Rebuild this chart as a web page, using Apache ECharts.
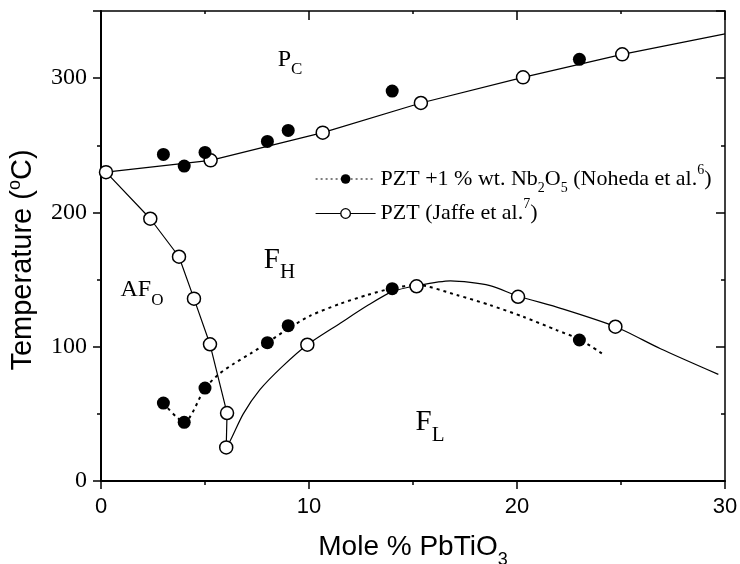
<!DOCTYPE html>
<html><head><meta charset="utf-8">
<script src="https://cdn.jsdelivr.net/npm/echarts@6/dist/echarts.min.js"></script>
<style>html,body{margin:0;padding:0;background:#fff}#c{width:740px;height:564px}</style>
</head><body><div id="c"></div>
<script>
// ---- data ----
const xTickLabels = ['0', '10', '20', '30'];
const yTickLabels = ['0', '100', '200', '300'];

// PZT + 1 % wt. Nb2O5 (Noheda et al.) : filled circles
const nohedaUpper = [[3, 243.2], [4, 234.5], [5, 244.7], [8, 252.9], [9, 261.1], [14, 290.4], [23, 314]];
const nohedaLower = [[3, 58], [4, 43.7], [5, 69.2], [8, 103], [9, 115.7], [14, 143.2], [23, 105]];
// dotted guide curve through the lower filled circles
const nohedaCurve = [[3, 58], [4, 43.7], [5, 69], [5.7, 80], [6.4, 87.5], [7.2, 95], [8, 103], [9, 113.5],
  [10.05, 123], [11.5, 132], [12.8, 138.5], [14, 143.5], [15.2, 146], [17.1, 138.5], [18.7, 131],
  [20.3, 122.3], [21.9, 112.4], [23, 105.5], [24.12, 94.6]];

// PZT (Jaffe et al.) : open circles
const jaffeUpper = [[0.24, 230], [5.27, 238.8], [10.66, 259.4], [15.38, 281.5], [20.29, 300.6], [25.06, 317.7]];
const jaffeUpperEnd = [[30, 333]];
const jaffeAF = [[2.37, 195.3], [3.75, 167], [4.47, 135.8], [5.24, 101.8], [6.06, 50.6], [6.02, 25]];
const jaffeLower = [[9.92, 101.5], [15.17, 145], [20.05, 137.2], [24.73, 114.9]];
// solid guide curve through the lower open circles
const jaffeLowerCurve = [[6.02, 25], [6.23, 30.5], [6.84, 50], [7.64, 68], [8.7, 85], [9.92, 101.5], [11.5, 117.5],
  [12.85, 131], [14.0, 141], [15.17, 145.4], [16.8, 149], [18.7, 145.5], [20.03, 137.8], [22.1, 128.6],
  [24.74, 114.9], [26.9, 98.5], [29.68, 79.4]];

// phase region labels
const regionNames = ['PC', 'FH', 'AFO', 'FL'];
const regionMain = ['P', 'F', 'AF', 'F'];
const regionSub = ['C', 'H', 'O', 'L'];
const regionAt = [[9.09, 314], [8.58, 164.6], [1.97, 142.2], [15.82, 43.6]];

const N1 = 'noheda';
const N2 = 'jaffe';

const SERIF = 'Liberation Serif, Times New Roman, serif';
const SANS = 'Liberation Sans, Arial, sans-serif';

// ---- chart ----
const chart = echarts.init(document.getElementById('c'), null, {renderer: 'canvas'});

const axisCommon = {
  type: 'value', splitLine: {show: false},
  axisLine: {show: true, onZero: false, lineStyle: {color: '#000', width: 2}},
  minorTick: {show: true, splitNumber: 2, length: 4, lineStyle: {color: '#000', width: 1.5}},
  minorSplitLine: {show: false}
};

const tb = {textBorderWidth: 0, textBorderColor: 'transparent', textShadowBlur: 0, opacity: 1};
const regionRich = {
  big: Object.assign({fontFamily: SERIF, fontSize: 29, color: '#000'}, tb),
  bigs: Object.assign({fontFamily: SERIF, fontSize: 21, color: '#000', padding: [2 * (10 + 0.34 * 8), 0, 0, 0], verticalAlign: 'middle'}, tb),
  mid: Object.assign({fontFamily: SERIF, fontSize: 24, color: '#000'}, tb),
  mids: Object.assign({fontFamily: SERIF, fontSize: 17, color: '#000', padding: [2 * (8 + 0.34 * 7), 0, 0, 0], verticalAlign: 'middle'}, tb)
};

const option = {
  animation: false,
  backgroundColor: '#fff',
  grid: {left: 101, right: 15, top: 11, bottom: 83, outerBoundsMode: 'none'},
  xAxis: [
    Object.assign({}, axisCommon, {
      min: 0, max: 30, interval: 10, position: 'bottom',
      axisTick: {show: true, length: 8, lineStyle: {color: '#000', width: 1.5}},
      axisLabel: {margin: 15, fontSize: 22, color: '#000', fontFamily: SANS,
        formatter: v => xTickLabels[Math.round(v / 10)]},
      name: '{m|Mole % PbTiO}{s|3}', nameLocation: 'middle', nameGap: 45, nameMoveOverlap: false,
      nameTextStyle: {fontFamily: SANS, fontSize: 28, color: '#000',
        rich: {m: {fontFamily: SANS, fontSize: 28, color: '#000'},
               s: {fontFamily: SANS, fontSize: 18, color: '#000', padding: [25, 0, 0, 0], verticalAlign: 'middle'}}}
    }),
    Object.assign({}, axisCommon, {
      min: 0, max: 30, interval: 10, position: 'top',
      axisLine: {show: true, onZero: false, lineStyle: {color: '#000', width: 1.5}},
      axisTick: {show: true, inside: true, length: 9, lineStyle: {color: '#000', width: 1.5}},
      minorTick: {show: true, splitNumber: 2, length: 3, lineStyle: {color: '#000', width: 1.5}},
      axisLabel: {show: false}
    })
  ],
  yAxis: [
    Object.assign({}, axisCommon, {
      min: 0, max: 350, interval: 100, position: 'left',
      axisTick: {show: true, length: 8, lineStyle: {color: '#000', width: 1.5}},
      axisLabel: {margin: 14, fontSize: 24, color: '#000', fontFamily: SERIF,
        formatter: v => yTickLabels[Math.round(v / 100)] || ''},
      name: '{m|Temperature (}{p|o}{m|C)}', nameLocation: 'middle', nameGap: 62, nameMoveOverlap: false,
      nameTextStyle: {fontFamily: SANS, fontSize: 29, color: '#000', padding: [0, 28, 0, 0],
        rich: {m: {fontFamily: SANS, fontSize: 29, color: '#000'},
               p: {fontFamily: SANS, fontSize: 18, color: '#000', padding: [0, 0, 15, 0], verticalAlign: 'middle'}}}
    }),
    Object.assign({}, axisCommon, {
      min: 0, max: 350, interval: 100, position: 'right',
      axisLine: {show: true, onZero: false, lineStyle: {color: '#000', width: 1.5}},
      axisTick: {show: true, inside: true, length: 9, lineStyle: {color: '#000', width: 1.5}},
      axisLabel: {show: false}
    })
  ],
  legend: {
    orient: 'vertical', left: 310, top: 158, itemWidth: 60, itemHeight: 12, itemGap: 2,
    selectedMode: false,
    data: [
      {name: N1, lineStyle: {type: [2, 3], width: 1.2, color: '#000'}, itemStyle: {color: '#000', borderWidth: 0}},
      {name: N2, lineStyle: {type: 'solid', width: 1.2, color: '#000'}, itemStyle: {color: '#fff', borderColor: '#000', borderWidth: 1.3}}
    ],
    formatter: function (name) {
      if (name === N1) return '{t|PZT +1 % wt. Nb}{sb|2}{t|O}{sb|5}{t| (Noheda et al.}{sp|6}{t|)}';
      return '{t|PZT (Jaffe et al.}{sp|7}{t|)}';
    },
    textStyle: {fontFamily: SERIF, fontSize: 22, color: '#000',
      rich: {
        t: {fontFamily: SERIF, fontSize: 22, color: '#000'},
        sb: {fontFamily: SERIF, fontSize: 14, color: '#000', padding: [19, 0, 0, 0], verticalAlign: 'middle'},
        sp: {fontFamily: SERIF, fontSize: 14, color: '#000', padding: [0, 0, 18, 0], verticalAlign: 'middle'}
      }}
  },
  series: [
    {name: N1, type: 'line', data: nohedaCurve, smooth: 0.25, symbol: 'circle', symbolSize: 12, showSymbol: false,
     lineStyle: {color: '#000', width: 2, type: [3, 4]}, itemStyle: {color: '#000'}, z: 2, silent: true},
    {name: N2, type: 'line', data: jaffeLowerCurve, smooth: 0.25, symbol: 'circle', symbolSize: 12, showSymbol: false,
     lineStyle: {color: '#000', width: 1.2}, itemStyle: {color: '#fff', borderColor: '#000', borderWidth: 1.3}, z: 2, silent: true},
    {name: 'jaffeTcLine', type: 'line', data: jaffeUpper.concat(jaffeUpperEnd), showSymbol: false, symbol: 'none',
     lineStyle: {color: '#000', width: 1.2}, z: 2, silent: true},
    {name: 'jaffeAFLine', type: 'line', data: [jaffeUpper[0]].concat(jaffeAF), showSymbol: false, symbol: 'none',
     lineStyle: {color: '#000', width: 1.2}, z: 2, silent: true},
    {name: 'jaffePts', type: 'scatter', data: jaffeUpper.concat(jaffeAF, jaffeLower), symbol: 'circle', symbolSize: 13,
     itemStyle: {color: '#fff', borderColor: '#000', borderWidth: 1.5, opacity: 1}, z: 3, silent: true},
    {name: 'nohedaPts', type: 'scatter', data: nohedaUpper.concat(nohedaLower), symbol: 'circle', symbolSize: 13,
     itemStyle: {color: '#000', opacity: 1}, z: 4, silent: true},
    {name: 'regions', type: 'scatter', symbolSize: 0.1, itemStyle: {color: '#fff', opacity: 1}, z: 5, silent: true,
     data: regionNames.map((n, i) => ({name: n, value: regionAt[i]})),
     label: Object.assign({show: true, position: 'inside', color: '#000',
       formatter: p => {
         const i = p.dataIndex;
         const big = (i === 1 || i === 3);
         return big ? '{big|' + regionMain[i] + '}{bigs|' + regionSub[i] + '}'
                    : '{mid|' + regionMain[i] + '}{mids|' + regionSub[i] + '}';
       },
       rich: regionRich}, tb)}
  ]
};
chart.setOption(option);
</script>
</body></html>
